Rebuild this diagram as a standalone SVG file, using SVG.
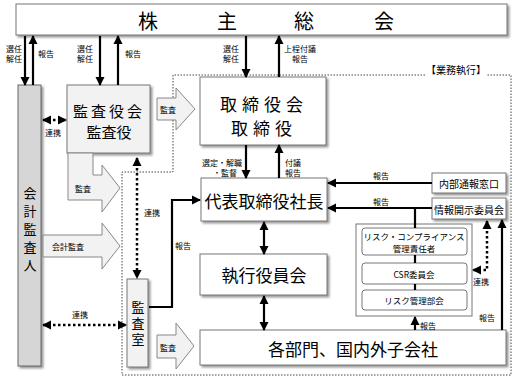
<svg xmlns="http://www.w3.org/2000/svg" width="516" height="381" viewBox="0 0 516 381">
<style>
text{font-family:"Noto Sans CJK JP","Noto Sans",sans-serif;fill:#000;dominant-baseline:central;text-anchor:middle}
.box{fill:#fff;stroke:#777;stroke-width:1;filter:url(#sh)}
.gbox{fill:#f2f2f2;stroke:#777;stroke-width:1;filter:url(#sh)}
.dbox{fill:#d6d6d6;stroke:#666;stroke-width:1;filter:url(#sh)}
.rbox{fill:#fff;stroke:#777;stroke-width:1}
.barrow{fill:#f2f2f2;stroke:#888;stroke-width:1}
.ln{fill:none;stroke:#000;stroke-width:2.2}
.dot{fill:none;stroke:#000;stroke-width:2.5;stroke-dasharray:2.5 2.5}
.bound{fill:none;stroke:#444;stroke-width:1;stroke-dasharray:1.5 1.5}
.s{font-size:8px}
.m{font-size:10px}
.r{font-size:8.5px}
.v{writing-mode:vertical-rl;dominant-baseline:auto}
</style>
<defs>
<filter id="sh" x="-10%" y="-10%" width="130%" height="130%">
<feDropShadow dx="2" dy="2" stdDeviation="1" flood-color="#555" flood-opacity="0.6"/>
</filter>
<marker id="ah" markerUnits="userSpaceOnUse" markerWidth="10" markerHeight="10" refX="8" refY="5" orient="auto-start-reverse">
<path d="M0,0.5 L9,5 L0,9.5 Z" fill="#000"/>
</marker>
</defs>

<g id="boundary">
<path class="bound" d="M425,75 L173,75 L173,172 L122,172 L122,375 L511,375 L511,75 L487,75"/>
<text class="m" x="456" y="69">【業務執行】</text>
</g>

<g id="shareholders">
<rect class="box" x="16" y="4" width="491" height="31"/>
<text x="148" y="20" style="font-size:20px">株</text>
<text x="227" y="20" style="font-size:20px">主</text>
<text x="304" y="20" style="font-size:20px">総</text>
<text x="384" y="20" style="font-size:20px">会</text>
</g>

<g id="auditor">
<rect class="dbox" x="18" y="85" width="23" height="281"/>
<text class="v" x="30" y="232" style="font-size:13px;letter-spacing:5px">会計監査人</text>
</g>

<g id="kansayakukai">
<rect class="gbox" x="67" y="85" width="83" height="68"/>
<text x="109" y="110" style="font-size:15px;letter-spacing:3px">監査役会</text>
<text x="109" y="131" style="font-size:15px">監査役</text>
</g>

<g id="torishimariyakukai">
<rect class="box" x="200" y="77" width="126" height="68"/>
<text x="264" y="103" style="font-size:17px;letter-spacing:5px">取締役会</text>
<text x="264" y="127" style="font-size:17px;letter-spacing:5px">取締役</text>
</g>

<g id="president">
<rect class="box" x="201" y="178" width="126" height="43"/>
<text x="264" y="200" style="font-size:17px">代表取締役社長</text>
</g>

<g id="shikkoyakuinkai">
<rect class="box" x="200" y="254" width="127" height="41"/>
<text x="264" y="274" style="font-size:17px">執行役員会</text>
</g>

<g id="departments">
<rect class="box" x="200" y="330" width="306" height="35"/>
<text x="353" y="348" style="font-size:17px">各部門、国内外子会社</text>
</g>

<g id="kansashitsu">
<rect class="gbox" x="127" y="279" width="21" height="88"/>
<text class="v" x="138" y="325" style="font-size:13px;letter-spacing:3px">監査室</text>
</g>

<g id="naibu">
<rect class="box" x="432" y="173" width="74" height="20"/>
<text class="m" x="469" y="183">内部通報窓口</text>
</g>

<g id="johokaiji">
<rect class="box" x="432" y="198" width="74" height="21"/>
<text class="m" x="469" y="209">情報開示委員会</text>
</g>

<g id="riskgroup">
<rect class="rbox" x="356" y="224" width="116" height="92"/>
<rect class="rbox" x="362" y="228" width="105" height="27" rx="3"/>
<text class="r" x="414" y="236">リスク・コンプライアンス</text>
<text class="r" x="414" y="248">管理責任者</text>
<rect class="rbox" x="362" y="263" width="105" height="21" rx="3"/>
<text class="r" x="414" y="274">CSR委員会</text>
<rect class="rbox" x="362" y="290" width="105" height="20" rx="3"/>
<text class="r" x="414" y="300">リスク管理部会</text>
</g>

<g id="connectors">
<path class="barrow" d="M157,98 L176,98 L176,88 L195,109 L176,130 L176,120 L157,120 Z"/>
<text class="s" x="168" y="109">監査</text>
<path class="barrow" d="M68,153 L93,153 L93,175 L102,175 L102,165 L120,188 L102,212 L102,200 L68,200 Z"/>
<text class="s" x="83" y="188">監査</text>
<path class="barrow" d="M43,235 L102,235 L102,223 L120,246 L102,269 L102,257 L43,257 Z"/>
<text class="s" x="68" y="246">会計監査</text>
<path class="barrow" d="M157,335 L176,335 L176,323 L194,346 L176,369 L176,358 L157,358 Z"/>
<text class="s" x="168" y="347">監査</text>

<line class="ln" x1="25" y1="36" x2="25" y2="85" marker-end="url(#ah)"/>
<line class="ln" x1="33" y1="85" x2="33" y2="36" marker-end="url(#ah)"/>
<text class="s" x="14" y="48">選任</text>
<text class="s" x="14" y="58">解任</text>
<text class="s" x="46" y="53">報告</text>

<line class="ln" x1="100" y1="36" x2="100" y2="85" marker-end="url(#ah)"/>
<line class="ln" x1="118" y1="85" x2="118" y2="36" marker-end="url(#ah)"/>
<text class="s" x="85" y="48">選任</text>
<text class="s" x="85" y="58">解任</text>
<text class="s" x="133" y="53">報告</text>

<line class="ln" x1="246" y1="36" x2="246" y2="77" marker-end="url(#ah)"/>
<line class="ln" x1="279" y1="77" x2="279" y2="36" marker-end="url(#ah)"/>
<text class="s" x="231" y="48">選任</text>
<text class="s" x="231" y="58">解任</text>
<text class="s" x="300" y="48">上程付議</text>
<text class="s" x="300" y="58">報告</text>

<line class="ln" x1="246" y1="145" x2="246" y2="178" marker-end="url(#ah)"/>
<line class="ln" x1="279" y1="178" x2="279" y2="145" marker-end="url(#ah)"/>
<text class="s" x="222" y="162">選定・解職</text>
<text class="s" x="225" y="172">・監督</text>
<text class="s" x="293" y="162">付議</text>
<text class="s" x="293" y="172">報告</text>

<line class="ln" x1="264" y1="222" x2="264" y2="254" marker-start="url(#ah)" marker-end="url(#ah)"/>
<line class="ln" x1="264" y1="296" x2="264" y2="330" marker-start="url(#ah)" marker-end="url(#ah)"/>

<line class="ln" x1="432" y1="183" x2="328" y2="183" marker-end="url(#ah)"/>
<text class="s" x="381" y="175">報告</text>
<line class="ln" x1="432" y1="208" x2="328" y2="208" marker-end="url(#ah)"/>
<text class="s" x="381" y="201">報告</text>
<line class="ln" x1="415" y1="208" x2="415" y2="228"/>
<line class="ln" x1="415" y1="255" x2="415" y2="263"/>
<line class="ln" x1="415" y1="284" x2="415" y2="290"/>
<line class="ln" x1="415" y1="330" x2="415" y2="317" marker-end="url(#ah)"/>
<text class="s" x="428" y="325">報告</text>
<line class="ln" x1="502" y1="330" x2="502" y2="220" marker-end="url(#ah)"/>
<text class="s" x="487" y="317">報告</text>

<polyline class="ln" points="149,307 172,307 172,200 200,200" marker-end="url(#ah)"/>
<text class="s" x="183" y="245">報告</text>

<line class="dot" x1="43" y1="120" x2="66" y2="120" marker-start="url(#ah)" marker-end="url(#ah)"/>
<text class="s" x="53" y="132">連携</text>
<line class="dot" x1="137" y1="158" x2="137" y2="278" marker-start="url(#ah)" marker-end="url(#ah)"/>
<text class="s" x="152" y="212">連携</text>
<line class="dot" x1="43" y1="325" x2="126" y2="325" marker-start="url(#ah)" marker-end="url(#ah)"/>
<text class="s" x="80" y="314">連携</text>
<polyline class="dot" points="487,221 487,270 473,270" marker-start="url(#ah)" marker-end="url(#ah)"/>
<text class="s" x="481" y="281">連携</text>
</g>
</svg>
